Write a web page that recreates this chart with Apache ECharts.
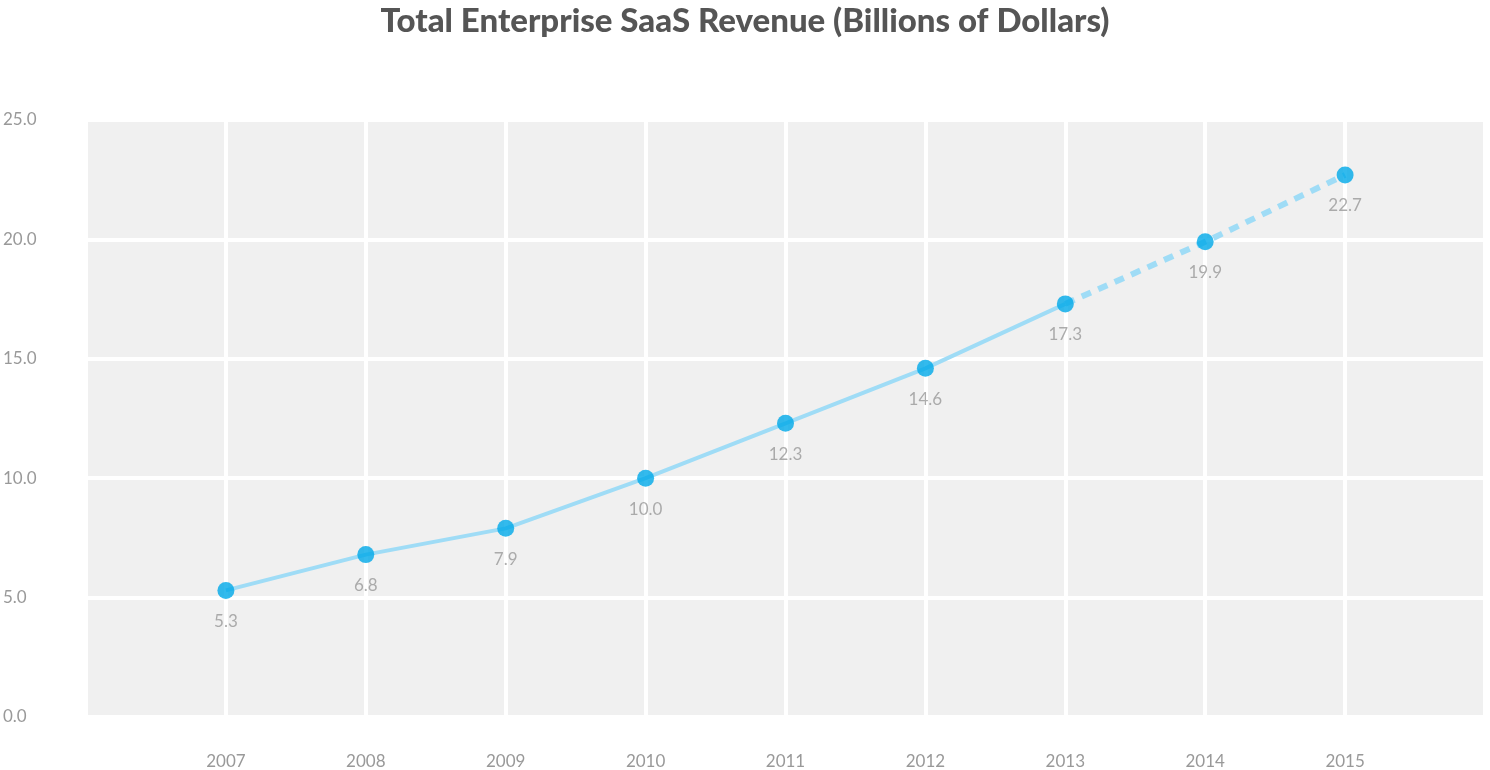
<!DOCTYPE html>
<html>
<head>
<meta charset="utf-8">
<script src="https://cdn.jsdelivr.net/npm/echarts@6/dist/echarts.min.js"></script>
<style>html,body{margin:0;padding:0;background:#fff}#main{width:1490px;height:770px}</style>
</head>
<body>
<div id="main"></div>
<script>
var years = [2007, 2008, 2009, 2010, 2011, 2012, 2013, 2014, 2015];
var revenue = [5.3, 6.8, 7.9, 10.0, 12.3, 14.6, 17.3, 19.9, 22.7];
var actualCount = 7; // 2007-2013 actual, after that projected

var chart = echarts.init(document.getElementById('main'));

var solid = [], dashed = [], points = [];
for (var i = 0; i < years.length; i++) {
	if (i < actualCount) solid.push([years[i], revenue[i]]);
	if (i >= actualCount - 1) dashed.push([years[i], revenue[i]]);
	points.push([years[i], revenue[i]]);
}

var option = {
	backgroundColor: '#fff',
	title: {
		text: 'Total Enterprise SaaS Revenue (Billions of Dollars)',
		left: 'center', top: 0,
		textStyle: {fontFamily: 'Lato', fontWeight: 900, fontSize: 33, color: '#555'}
	},
	grid: {left: 83, right: 5, top: 120, bottom: 47, show: true, backgroundColor: '#f0f0f0', borderWidth: 0},
	xAxis: {
		type: 'value', min: 2006, max: 2016, interval: 1,
		axisLine: {show: false}, axisTick: {show: false},
		splitLine: {show: true, lineStyle: {color: '#fff', width: 4}},
		axisLabel: {
			margin: 36, color: '#999', fontFamily: 'Lato', fontSize: 17,
			formatter: function (v) { return (v < 2007 || v > 2015) ? '' : String(v); }
		}
	},
	yAxis: {
		type: 'value', min: 0, max: 25, interval: 5,
		axisLine: {show: false}, axisTick: {show: false},
		splitLine: {show: true, lineStyle: {color: '#fff', width: 4}},
		axisLabel: {
			margin: 83, align: 'left', color: '#999', fontFamily: 'Lato', fontSize: 17,
			formatter: function (v) { return v.toFixed(1); }
		}
	},
	series: [
		{type: 'line', data: solid, symbol: 'none', lineStyle: {color: '#9fdcf6', width: 4}, z: 2},
		{type: 'line', data: dashed, symbol: 'none', lineStyle: {color: '#9fdcf6', width: 6, type: [10, 8]}, z: 2},
		{
			type: 'scatter', data: points, symbolSize: 17, z: 3,
			itemStyle: {color: '#00a9e9'},
			label: {
				show: true, position: 'bottom', distance: 14, color: '#999',
				fontFamily: 'Lato', fontSize: 17,
				formatter: function (p) { return p.value[1].toFixed(1); }
			}
		}
	]
};
chart.setOption(option);
</script>
</body>
</html>
